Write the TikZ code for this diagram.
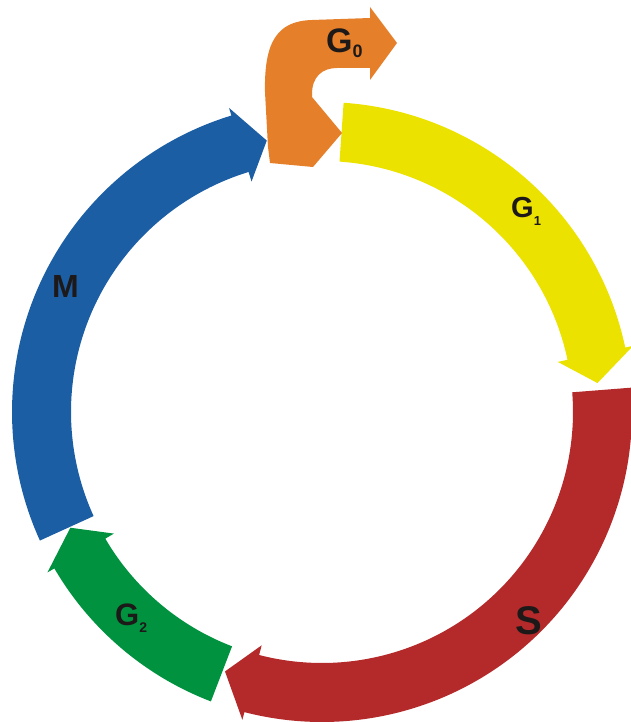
\documentclass[tikz,border=0pt]{standalone}
\usepackage{fontspec}
\setmainfont{Liberation Sans}
\usepackage{tikz}
\usetikzlibrary{positioning}

\definecolor{phaseM}{RGB}{28,94,164}
\definecolor{phaseGo}{RGB}{230,127,42}
\definecolor{phaseGa}{RGB}{235,226,0}
\definecolor{phaseS}{RGB}{180,42,43}
\definecolor{phaseGb}{RGB}{0,146,63}
\definecolor{phaseInk}{RGB}{30,25,25}

% radii of the ring
\def\rin{251}
\def\rout{310}

% arc arrow: colour, tail angle, head base angle, tip angle
\newcommand{\phasearrow}[4]{%
  \fill[#1] (#2:\rout) arc[start angle=#2, end angle=#3, radius=\rout]
    -- (#3:\rout+8) -- (#4:277) -- (#3:\rin-10) -- (#3:\rin)
    arc[start angle=#3, end angle=#2, radius=\rin] -- cycle;}

\begin{document}
\begin{tikzpicture}[x=1pt, y=1pt,
  phasetext/.style={anchor=base west, inner sep=0pt, text=phaseInk, font=\bfseries}]
  \useasboundingbox (-322,-310) rectangle (308,412);

  % G1
  \phasearrow{phaseGa}{86}{12}{6}
  % S
  \phasearrow{phaseS}{4.5}{-104.5}{-110.5}
  % G2
  \phasearrow{phaseGb}{-111}{-149.7}{-155.3}
  % M
  \phasearrow{phaseM}{204.5}{107}{101.5}

  % G0 branch
  \fill[phaseGo] (-52,249) -- (-54,265) -- (-57,320)
    .. controls (-58,370) and (-45,391) .. (-10,392) -- (48,394)
    -- (48,405) -- (75,369) -- (48,332) -- (48,344) -- (15,344)
    .. controls (0,344) and (-10,335) .. (-10,318)
    -- (-10,315) -- (20,279) -- (-9,245) -- cycle;

  % labels
  \node[phasetext] (go) at (4,359)
    {\fontsize{34}{36}\selectfont G\raisebox{-5pt}{\fontsize{18}{20}\selectfont 0}};
  \node[phasetext] (ga) at (189,194)
    {\fontsize{29}{31}\selectfont G\raisebox{-8pt}{\fontsize{13}{14}\selectfont 1}};
  \node[phasetext] (s) at (193,-222)
    {\fontsize{40}{42}\selectfont S};
  \node[phasetext] (gb) at (-207,-213)
    {\fontsize{31}{33}\selectfont G\raisebox{-7pt}{\fontsize{14}{15}\selectfont 2}};
  \node[phasetext] (m) at (-270,114)
    {\fontsize{32}{34}\selectfont M};
\end{tikzpicture}
\end{document}
